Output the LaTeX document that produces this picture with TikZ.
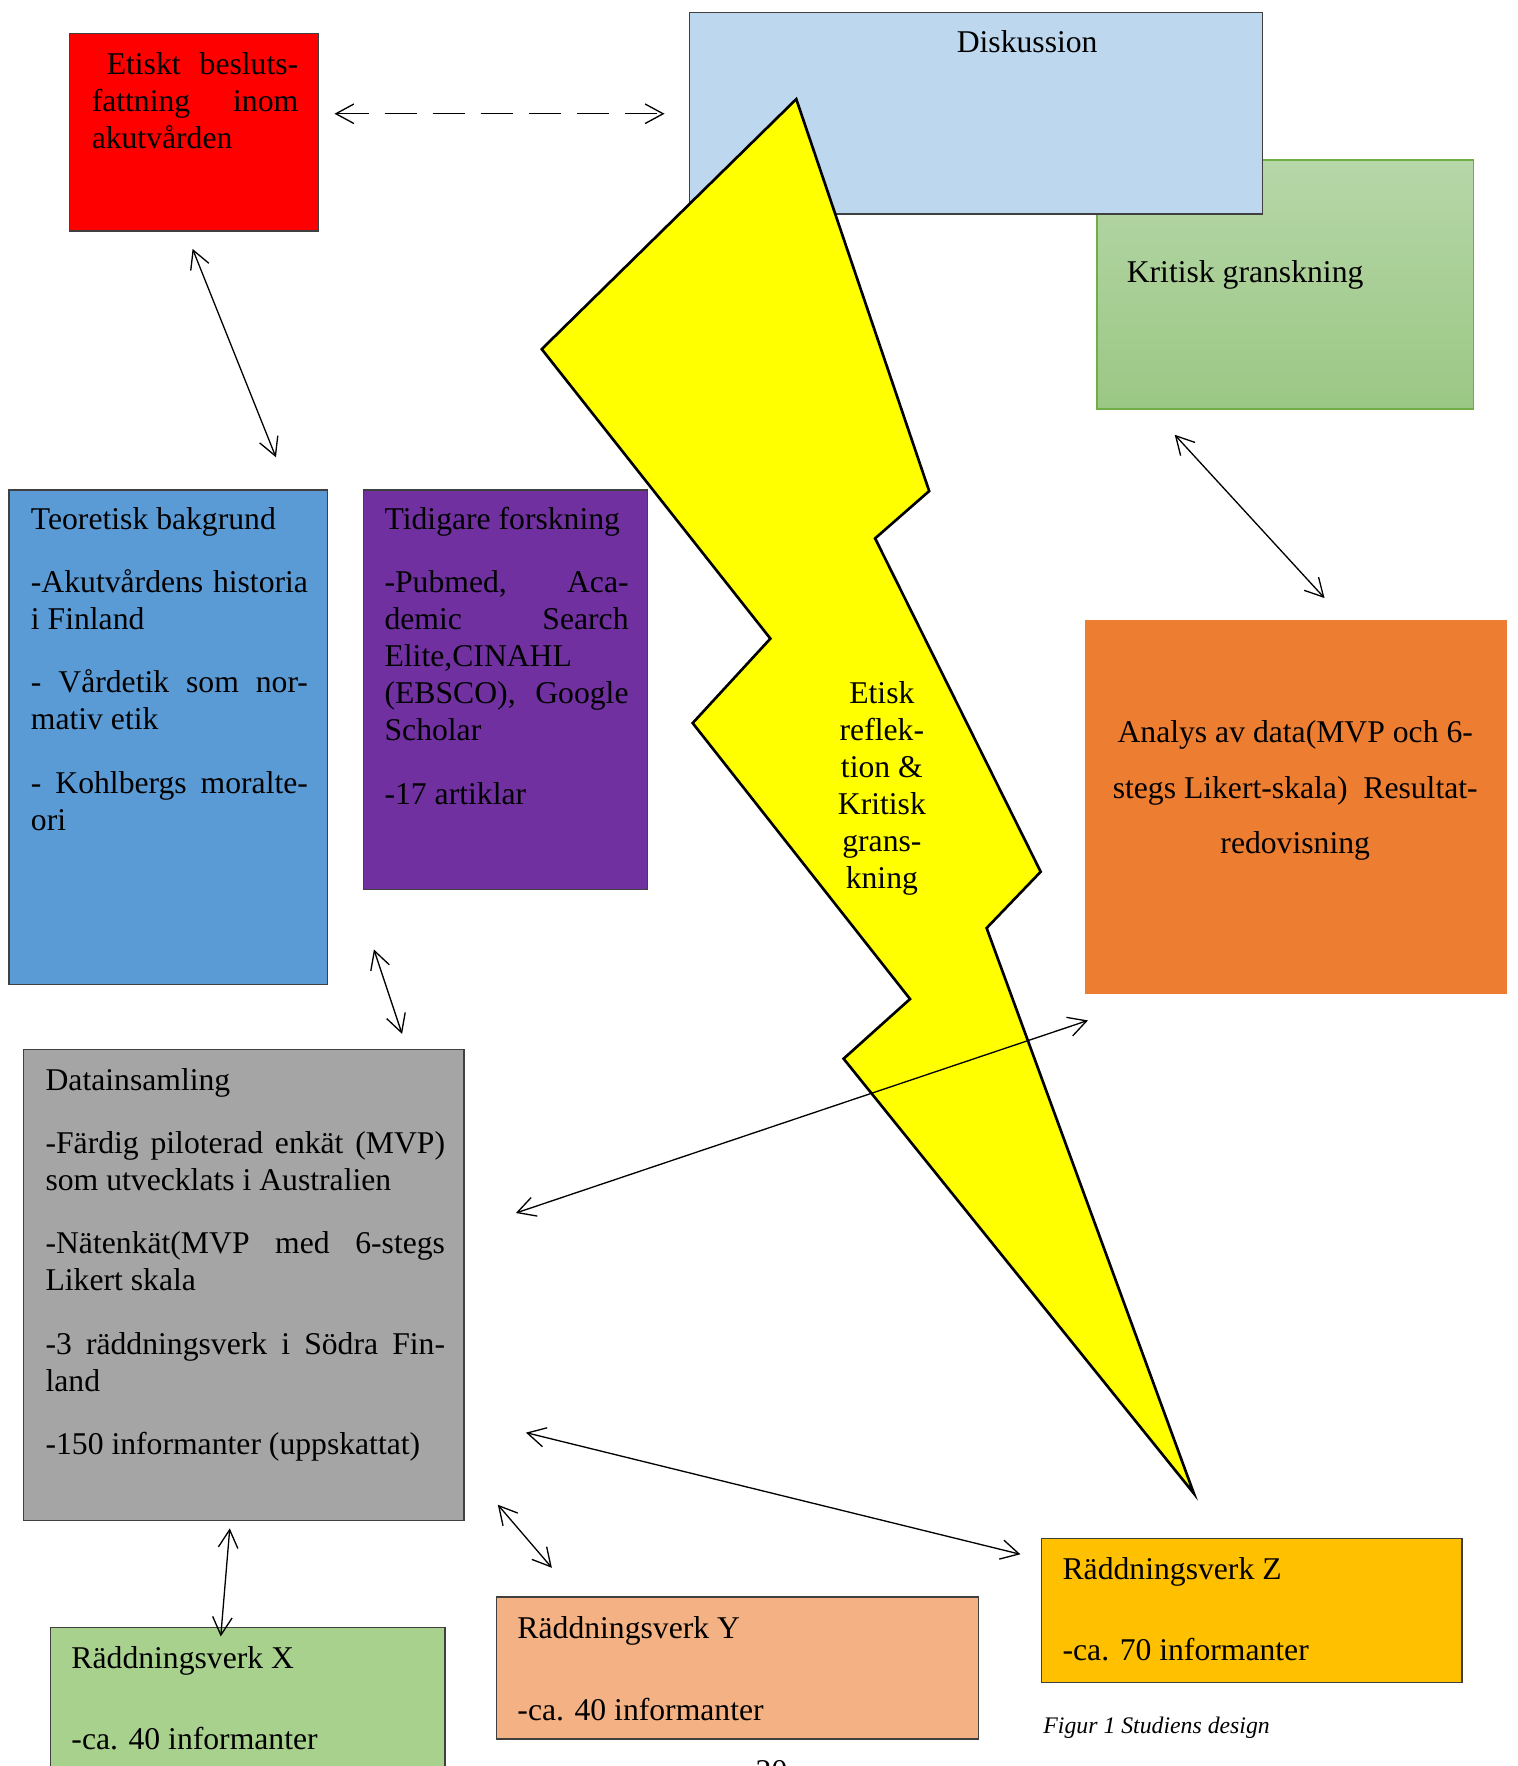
\documentclass[tikz,border=0pt]{standalone}
\usepackage{fontspec}
\setmainfont{Liberation Serif}
\usetikzlibrary{arrows.meta,fit}

\definecolor{beslutred}{HTML}{FF0000}
\definecolor{diskblue}{HTML}{BDD7EE}
\definecolor{kritlight}{HTML}{B6D7A8}
\definecolor{kritdark}{HTML}{9BC784}
\definecolor{kritline}{HTML}{70AD47}
\definecolor{teoblue}{HTML}{5B9BD5}
\definecolor{tidpurple}{HTML}{7030A0}
\definecolor{anaorange}{HTML}{ED7D31}
\definecolor{datagray}{HTML}{A5A5A5}
\definecolor{xgreen}{HTML}{A9D18E}
\definecolor{ysalmon}{HTML}{F4B183}
\definecolor{zgold}{HTML}{FFC000}
\definecolor{boltyellow}{HTML}{FFFF00}

\tikzset{
  >={Straight Barb[length=2.4mm,width=2.6mm]},
  box/.style={draw=black!75, line width=0.5pt, inner sep=0pt},
  txt/.style={font=\fontsize{12pt}{14pt}\selectfont, inner sep=0pt, anchor=north west,
    align=justify, execute at begin node={\setlength{\parskip}{10pt}\setlength{\parindent}{0pt}}},
  link/.style={<->, line width=0.5pt}
}

\begin{document}
\begin{tikzpicture}[x=0.015cm, y=-0.015cm]
  \useasboundingbox (0,0) rectangle (1347,1568);

  % boxes
  \node[box, draw=kritline, top color=kritlight, bottom color=kritdark, fit={(974,142) (1308,363)}] (krit) {};
  \node[box, fill=diskblue, fit={(612,11) (1121,190)}] (disk) {};
  \node[box, fill=beslutred, fit={(62,30) (283,205)}] (beslut) {};
  \node[box, fill=teoblue, fit={(8,435) (291,874)}] (teo) {};
  \node[box, fill=tidpurple, fit={(323,435) (575,790)}] (tid) {};
  \node[box, draw=anaorange, fill=anaorange, fit={(964,551) (1337,882)}] (ana) {};
  \node[box, fill=datagray, fit={(21,932) (412,1350)}] (data) {};
  \node[box, fill=xgreen, fit={(45,1445) (395,1600)}] (rvx) {};
  \node[box, fill=ysalmon, fit={(441,1418) (869,1544)}] (rvy) {};
  \node[box, fill=zgold, fit={(925,1366) (1298,1494)}] (rvz) {};

  % blixten
  \draw[fill=boltyellow, line width=1pt, line join=miter]
    (707,88) -- (825,436) -- (777,478) -- (924,774) -- (876,824) -- (1060,1326)
    -- (749,940) -- (808,887) -- (615,642) -- (684,567) -- (481,310) -- cycle;

  % texter
  \node[txt, text width=2.75cm] (beslutT) at (81,46)
    {\hspace*{0.2cm}Etiskt besluts-\linebreak fattning inom\linebreak akutvården};
  \node[txt, anchor=center] (diskT) at (912,37) {Diskussion};
  \node[txt, anchor=west] (kritT) at (1000,244) {Kritisk granskning};
  \node[txt, text width=3.69cm] (teoT) at (27,450)
    {Teoretisk bakgrund\par
     -Akutvårdens historia\linebreak i Finland\par
     - Vårdetik som nor-\linebreak mativ etik\par
     - Kohlbergs moralte-\linebreak ori};
  \node[txt, text width=3.25cm] (tidT) at (341,450)
    {Tidigare forskning\par
     -Pubmed, Aca-\linebreak demic Search\linebreak Elite,CINAHL\linebreak (EBSCO), Google\linebreak Scholar\par
     -17 artiklar};
  \node[txt, anchor=center, align=center] (boltT) at (783,700)
    {Etisk\\reflek-\\tion \&\\Kritisk\\grans-\\kning};
  \node[txt, anchor=center, align=center, font=\fontsize{12pt}{21pt}\selectfont] (anaT) at (1150,702)
    {Analys av data(MVP och 6-\\stegs Likert-skala)\ \ Resultat-\\redovisning};
  \node[txt, text width=5.32cm] (dataT) at (40,948)
    {Datainsamling\par
     -Färdig piloterad enkät (MVP)\linebreak som utvecklats i Australien\par
     -Nätenkät(MVP med 6-stegs\linebreak Likert skala\par
     -3 räddningsverk i Södra Fin-\linebreak land\par
     -150 informanter (uppskattat)};
  \node[txt, align=left] (rvxT) at (63,1461) {Räddningsverk X\\[17pt]-ca. 40 informanter};
  \node[txt, align=left] (rvyT) at (459,1435) {Räddningsverk Y\\[17pt]-ca. 40 informanter};
  \node[txt, align=left] (rvzT) at (943,1382) {Räddningsverk Z\\[17pt]-ca. 70 informanter};
  \node[txt, anchor=west, font=\fontsize{9pt}{11pt}\selectfont\itshape] (caption) at (926,1534)
    {Figur 1 Studiens design};
  \node[txt, anchor=north] (pagenr) at (685,1563) {20};

  % pilarnas ändar
  \coordinate (beslutR) at (297,101);  \coordinate (diskL) at (590,101);
  \coordinate (beslutS) at (171,221);  \coordinate (teoN) at (245,406);
  \coordinate (kritS) at (1043,386);   \coordinate (anaN) at (1176,531);
  \coordinate (tidS) at (332,843);     \coordinate (dataN) at (357,918);
  \coordinate (dataE) at (458,1077);   \coordinate (anaSW) at (966,906);
  \coordinate (dataSE) at (467,1272);  \coordinate (rvzW) at (906,1380);
  \coordinate (dataS) at (442,1336);   \coordinate (rvyN) at (490,1392);
  \coordinate (dataB) at (204,1357);   \coordinate (rvxN) at (196,1453);

  \draw[link, dash pattern=on 4.3mm off 2.1mm] (beslutR) -- (diskL);
  \foreach \a/\b in {beslutS/teoN, kritS/anaN, tidS/dataN, dataE/anaSW, dataSE/rvzW, dataS/rvyN, dataB/rvxN}
    \draw[link] (\a) -- (\b);
\end{tikzpicture}
\end{document}
